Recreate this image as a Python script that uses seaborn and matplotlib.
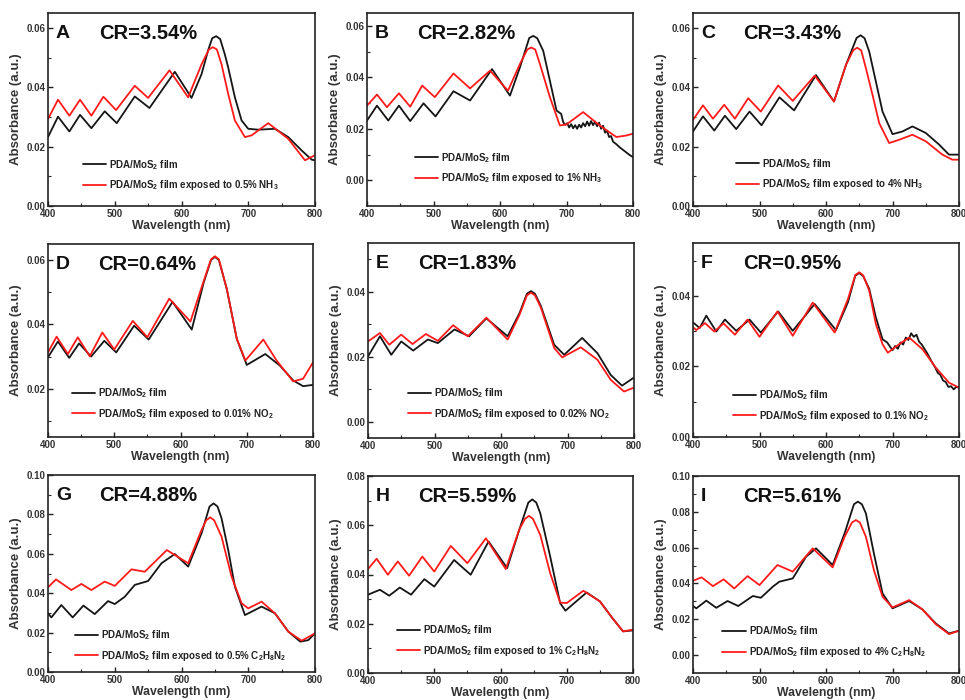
import numpy as np
import pandas as pd
import matplotlib
matplotlib.use("Agg")
import matplotlib.pyplot as plt
import seaborn as sns

# ---------------- data ----------------
A_bk_x = [400, 415, 432, 448, 465, 485, 503, 530, 552, 590, 615, 630, 640, 646, 652, 658, 665, 670, 680, 690, 700, 715, 740, 760, 780, 795, 800]
A_bk_y = [0.0232, 0.0301, 0.0251, 0.0307, 0.0262, 0.0319, 0.0279, 0.0369, 0.0330, 0.0452, 0.0364, 0.0444, 0.0525, 0.0565, 0.0572, 0.0562, 0.0510, 0.0466, 0.0366, 0.0288, 0.0260, 0.0257, 0.0260, 0.0232, 0.0187, 0.0156, 0.0154]
A_rd_x = [400, 415, 432, 448, 465, 483, 502, 530, 550, 582, 610, 630, 641, 647, 653, 660, 670, 680, 695, 705, 730, 760, 785, 800]
A_rd_y = [0.0293, 0.0358, 0.0304, 0.0358, 0.0304, 0.0368, 0.0323, 0.0405, 0.0364, 0.0457, 0.0366, 0.0477, 0.0527, 0.0535, 0.0527, 0.0477, 0.0377, 0.0288, 0.0232, 0.0238, 0.0279, 0.0226, 0.0154, 0.0171]

B_bk_x = [400, 415, 432, 448, 465, 485, 503, 530, 555, 588, 615, 630, 644, 650, 656, 665, 675, 685, 692,
          695, 698, 701, 704, 707, 710, 713, 716, 719, 722, 725, 728, 731, 734, 737, 740, 743, 746, 749,
          752, 755, 758, 761, 764, 767, 770, 775, 780, 785, 790, 795, 800]
B_bk_y = [0.0232, 0.0290, 0.0232, 0.0290, 0.0230, 0.0299, 0.0248, 0.0346, 0.0310, 0.0432, 0.0329, 0.0439, 0.0553, 0.0561, 0.0552, 0.0503, 0.0387, 0.0271, 0.0258,
          0.0226, 0.0215, 0.0222, 0.0205, 0.0218, 0.0202, 0.0214, 0.0200, 0.0216, 0.0205, 0.0222, 0.0210, 0.0228, 0.0212, 0.0230, 0.0214, 0.0228, 0.0210, 0.0224,
          0.0200, 0.0212, 0.0185, 0.0193, 0.0168, 0.0172, 0.0150, 0.0140, 0.0128, 0.0118, 0.0108, 0.0098, 0.0090]
B_rd_x = [400, 415, 430, 448, 465, 483, 502, 530, 555, 585, 612, 630, 641, 647, 653, 660, 675, 690, 700, 725, 750, 775, 790, 800]
B_rd_y = [0.0290, 0.0333, 0.0284, 0.0338, 0.0286, 0.0368, 0.0323, 0.0415, 0.0357, 0.0426, 0.0348, 0.0452, 0.0508, 0.0516, 0.0508, 0.0452, 0.0323, 0.0213, 0.0217, 0.0265, 0.0213, 0.0168, 0.0174, 0.0181]

C_bk_x = [400, 415, 432, 448, 465, 485, 503, 530, 552, 585, 612, 630, 646, 652, 658, 665, 675, 685, 700, 715, 730, 750, 770, 785, 800]
C_bk_y = [0.0251, 0.0302, 0.0254, 0.0304, 0.0259, 0.0318, 0.0272, 0.0366, 0.0322, 0.0441, 0.0352, 0.0475, 0.0566, 0.0575, 0.0565, 0.0520, 0.0419, 0.0318, 0.0242, 0.0251, 0.0268, 0.0246, 0.0207, 0.0173, 0.0173]
C_rd_x = [400, 415, 430, 447, 463, 483, 502, 528, 550, 583, 612, 630, 641, 647, 653, 660, 670, 680, 695, 710, 730, 750, 775, 790, 800]
C_rd_y = [0.0290, 0.0339, 0.0294, 0.0341, 0.0294, 0.0363, 0.0318, 0.0406, 0.0354, 0.0439, 0.0352, 0.0475, 0.0525, 0.0533, 0.0524, 0.0464, 0.0374, 0.0279, 0.0212, 0.0223, 0.0240, 0.0218, 0.0173, 0.0156, 0.0156]

D_bk_x = [400, 415, 432, 447, 465, 485, 503, 530, 552, 588, 617, 635, 646, 652, 658, 670, 685, 700, 728, 750, 770, 785, 800]
D_bk_y = [0.0298, 0.0347, 0.0296, 0.0341, 0.0300, 0.0349, 0.0313, 0.0396, 0.0353, 0.0470, 0.0384, 0.0530, 0.0600, 0.0610, 0.0600, 0.0509, 0.0355, 0.0274, 0.0308, 0.0272, 0.0226, 0.0208, 0.0212]
D_rd_x = [400, 413, 430, 445, 463, 482, 500, 528, 550, 583, 615, 635, 646, 652, 658, 670, 685, 698, 725, 745, 770, 785, 800]
D_rd_y = [0.0313, 0.0362, 0.0308, 0.0360, 0.0301, 0.0375, 0.0322, 0.0411, 0.0360, 0.0480, 0.0409, 0.0535, 0.0602, 0.0612, 0.0602, 0.0509, 0.0355, 0.0288, 0.0353, 0.0288, 0.0223, 0.0231, 0.0282]

E_bk_x = [400, 418, 435, 450, 468, 490, 505, 530, 552, 578, 610, 628, 639, 645, 651, 660, 680, 695, 722, 745, 765, 782, 800]
E_bk_y = [0.0201, 0.0263, 0.0206, 0.0247, 0.0219, 0.0253, 0.0242, 0.0284, 0.0263, 0.0318, 0.0263, 0.0335, 0.0394, 0.0402, 0.0394, 0.0356, 0.0237, 0.0206, 0.0258, 0.0211, 0.0144, 0.0111, 0.0136]
E_rd_x = [400, 418, 432, 450, 467, 487, 505, 528, 550, 578, 610, 628, 639, 645, 651, 660, 680, 692, 720, 745, 765, 785, 800]
E_rd_y = [0.0247, 0.0273, 0.0237, 0.0268, 0.0239, 0.0270, 0.0249, 0.0297, 0.0263, 0.0320, 0.0253, 0.0330, 0.0389, 0.0397, 0.0389, 0.0351, 0.0227, 0.0198, 0.0229, 0.0191, 0.0129, 0.0093, 0.0105]

F_bk_x = [400, 410, 420, 435, 448, 465, 485, 502, 528, 550, 583, 615, 633, 644, 650, 656, 665, 675, 685, 692,
          700, 704, 708, 712, 716, 720, 724, 728, 732, 736, 740, 744, 748, 752, 756, 760, 764, 768,
          772, 776, 780, 784, 788, 792, 796, 800]
F_bk_y = [0.0325, 0.0309, 0.0344, 0.0299, 0.0333, 0.0301, 0.0333, 0.0296, 0.0356, 0.0301, 0.0377, 0.0303, 0.0382, 0.0457, 0.0465, 0.0456, 0.0420, 0.0339, 0.0277, 0.0268,
          0.0246, 0.0258, 0.0250, 0.0268, 0.0262, 0.0282, 0.0275, 0.0294, 0.0284, 0.0290, 0.0270, 0.0262, 0.0250, 0.0238, 0.0224, 0.0210, 0.0198, 0.0182,
          0.0176, 0.0160, 0.0156, 0.0142, 0.0144, 0.0135, 0.0142, 0.0140]
F_rd_x = [400, 405, 418, 432, 446, 463, 482, 500, 527, 550, 580, 613, 633, 644, 650, 656, 665, 675, 685, 693, 710, 725, 745, 765, 785, 800]
F_rd_y = [0.0311, 0.0303, 0.0323, 0.0299, 0.0322, 0.0290, 0.0333, 0.0284, 0.0356, 0.0287, 0.0381, 0.0296, 0.0391, 0.0459, 0.0467, 0.0458, 0.0415, 0.0320, 0.0263, 0.0239, 0.0263, 0.0282, 0.0249, 0.0197, 0.0154, 0.0140]

G_bk_x = [400, 405, 420, 437, 453, 470, 490, 500, 515, 530, 550, 570, 590, 610, 630, 642, 648, 654, 660, 670, 680, 695, 720, 740, 760, 778, 790, 800]
G_bk_y = [0.0298, 0.0277, 0.0340, 0.0277, 0.0337, 0.0294, 0.0360, 0.0345, 0.0382, 0.0442, 0.0462, 0.0552, 0.0599, 0.0535, 0.0704, 0.0840, 0.0856, 0.0840, 0.0780, 0.0619, 0.0433, 0.0289, 0.0332, 0.0298, 0.0205, 0.0154, 0.0162, 0.0196]
G_rd_x = [400, 412, 435, 450, 465, 485, 500, 525, 545, 578, 610, 630, 637, 643, 649, 660, 675, 690, 700, 720, 740, 760, 780, 800]
G_rd_y = [0.0430, 0.0470, 0.0416, 0.0447, 0.0416, 0.0459, 0.0437, 0.0521, 0.0509, 0.0619, 0.0552, 0.0721, 0.0770, 0.0785, 0.0770, 0.0687, 0.0484, 0.0349, 0.0323, 0.0357, 0.0298, 0.0205, 0.0159, 0.0196]

H_bk_x = [400, 418, 432, 448, 465, 485, 500, 530, 555, 582, 610, 630, 642, 648, 654, 660, 675, 690, 698, 730, 750, 770, 785, 800]
H_bk_y = [0.0318, 0.0338, 0.0314, 0.0347, 0.0318, 0.0381, 0.0351, 0.0459, 0.0399, 0.0534, 0.0426, 0.0595, 0.0692, 0.0705, 0.0692, 0.0649, 0.0473, 0.0284, 0.0253, 0.0327, 0.0291, 0.0219, 0.0169, 0.0173]
H_rd_x = [400, 413, 430, 445, 462, 482, 500, 525, 550, 578, 608, 628, 637, 643, 649, 660, 675, 690, 700, 725, 750, 770, 785, 800]
H_rd_y = [0.0422, 0.0464, 0.0399, 0.0453, 0.0395, 0.0473, 0.0412, 0.0516, 0.0446, 0.0547, 0.0422, 0.0581, 0.0626, 0.0638, 0.0626, 0.0561, 0.0405, 0.0286, 0.0284, 0.0334, 0.0291, 0.0219, 0.0169, 0.0176]

I_bk_x = [400, 405, 420, 435, 452, 468, 490, 502, 520, 530, 550, 570, 585, 610, 628, 642, 648, 654, 660, 672, 685, 700, 725, 745, 765, 785, 800]
I_bk_y = [0.0274, 0.0261, 0.0304, 0.0264, 0.0302, 0.0274, 0.0330, 0.0320, 0.0382, 0.0410, 0.0428, 0.0549, 0.0596, 0.0503, 0.0680, 0.0842, 0.0857, 0.0842, 0.0791, 0.0568, 0.0345, 0.0261, 0.0302, 0.0255, 0.0177, 0.0121, 0.0136]
I_rd_x = [400, 413, 430, 446, 462, 482, 500, 527, 550, 580, 610, 628, 639, 645, 651, 660, 672, 685, 700, 725, 745, 765, 785, 800]
I_rd_y = [0.0415, 0.0434, 0.0385, 0.0423, 0.0372, 0.0441, 0.0391, 0.0503, 0.0466, 0.0596, 0.0490, 0.0661, 0.0740, 0.0754, 0.0740, 0.0661, 0.0475, 0.0326, 0.0266, 0.0307, 0.0255, 0.0173, 0.0117, 0.0136]

letters = ["A", "B", "C", "D", "E", "F", "G", "H", "I"]
cr_texts = ["CR=3.54%", "CR=2.82%", "CR=3.43%", "CR=0.64%", "CR=1.83%", "CR=0.95%", "CR=4.88%", "CR=5.59%", "CR=5.61%"]
gas_labels = ["0.5% NH$_3$", "1% NH$_3$", "4% NH$_3$", "0.01% NO$_2$", "0.02% NO$_2$", "0.1% NO$_2$",
              "0.5% C$_2$H$_8$N$_2$", "1% C$_2$H$_8$N$_2$", "4% C$_2$H$_8$N$_2$"]
black_label = "PDA/MoS$_2$ film"
red_prefix = "PDA/MoS$_2$ film exposed to "

series = [
    (A_bk_x, A_bk_y, A_rd_x, A_rd_y), (B_bk_x, B_bk_y, B_rd_x, B_rd_y), (C_bk_x, C_bk_y, C_rd_x, C_rd_y),
    (D_bk_x, D_bk_y, D_rd_x, D_rd_y), (E_bk_x, E_bk_y, E_rd_x, E_rd_y), (F_bk_x, F_bk_y, F_rd_x, F_rd_y),
    (G_bk_x, G_bk_y, G_rd_x, G_rd_y), (H_bk_x, H_bk_y, H_rd_x, H_rd_y), (I_bk_x, I_bk_y, I_rd_x, I_rd_y),
]

# ---------------- layout / style ----------------
ylims = [(0, 0.065), (-0.01, 0.065), (0, 0.065),
         (0.005, 0.065), (-0.005, 0.055), (0, 0.055),
         (0, 0.10), (0, 0.08), (-0.01, 0.10)]
yticks = [[0, 0.02, 0.04, 0.06], [0, 0.02, 0.04, 0.06], [0, 0.02, 0.04, 0.06],
          [0.02, 0.04, 0.06], [0, 0.02, 0.04], [0, 0.02, 0.04],
          [0, 0.02, 0.04, 0.06, 0.08, 0.10], [0, 0.02, 0.04, 0.06, 0.08], [0, 0.02, 0.04, 0.06, 0.08, 0.10]]
# axes boxes in pixels (left, right, top, bottom)
boxes = [(48, 315, 13, 206), (367, 633, 13, 206), (693, 959, 13, 206),
         (48, 313, 244, 437), (368, 634, 243, 438), (693, 959, 243, 437),
         (48, 315, 475, 672), (368, 633, 476, 673), (693, 959, 476, 673)]
# legend anchor (axes fraction): x of line start, y of first row
leg_pos = [(0.12, 0.22), (0.17, 0.256), (0.15, 0.225),
           (0.08, 0.234), (0.14, 0.237), (0.14, 0.222),
           (0.09, 0.193), (0.10, 0.223), (0.10, 0.217)]

sns.set_theme(style="ticks")
plt.rcParams.update({
    "font.family": ["Liberation Sans", "DejaVu Sans"],
    "font.weight": "bold",
    "axes.labelweight": "bold",
    "mathtext.fontset": "custom",
    "mathtext.rm": "Liberation Sans:bold",
    "mathtext.bf": "Liberation Sans:bold",
    "mathtext.it": "Liberation Sans:bold",
    "mathtext.default": "bf",
    "axes.linewidth": 1.2,
    "axes.edgecolor": "#222222",
})

W, H = 965, 700
fig = plt.figure(figsize=(W / 100, H / 100), dpi=100)

for i in range(9):
    l, r, t, b = boxes[i]
    ax = fig.add_axes([l / W, 1 - b / H, (r - l) / W, (b - t) / H])
    bx, by, rx, ry = series[i]
    df = pd.concat([
        pd.DataFrame({"Wavelength": bx, "Absorbance": by, "sample": "film"}),
        pd.DataFrame({"Wavelength": rx, "Absorbance": ry, "sample": "exposed"}),
    ], ignore_index=True)
    sns.lineplot(data=df, x="Wavelength", y="Absorbance", hue="sample",
                 palette={"film": "#151515", "exposed": "#ff1a1a"},
                 estimator=None, sort=True, linewidth=1.3, legend=False, ax=ax)
    for ln in ax.get_lines():
        ln.set_solid_joinstyle("round")
    ax.set_xlim(400, 800)
    ax.set_ylim(*ylims[i])
    ax.set_xticks([400, 500, 600, 700, 800])
    ax.set_xticks([450, 550, 650, 750], minor=True)
    ax.set_yticks(yticks[i])
    ax.set_yticklabels([f"{v:.2f}" for v in yticks[i]])
    yt = yticks[i]
    ax.set_yticks([v + 0.01 for v in yt[:-1]] + ([yt[-1] + 0.01] if yt[-1] + 0.01 < ylims[i][1] else [])
                  + ([yt[0] - 0.01] if yt[0] - 0.01 > ylims[i][0] else []), minor=True)
    ax.tick_params(axis="both", which="major", direction="in", length=3.5, width=1.0,
                   labelsize=7, pad=2, colors="#222222")
    ax.tick_params(axis="both", which="minor", direction="in", length=2, width=0.8)
    for lab in ax.get_xticklabels() + ax.get_yticklabels():
        lab.set_fontweight("bold")
        lab.set_color("#333333")
    ax.set_xlabel("Wavelength (nm)", fontsize=8.8, fontweight="bold", labelpad=1, color="#333333")
    ax.set_ylabel("Absorbance (a.u.)", fontsize=9.5, fontweight="bold", labelpad=3, color="#333333")

    ax.text(0.03, 0.895, letters[i], transform=ax.transAxes, fontsize=14, fontweight="bold",
            va="center", ha="left", color="#111111")
    ax.text(0.19, 0.895, cr_texts[i], transform=ax.transAxes, fontsize=14.5, fontweight="bold",
            va="center", ha="left", color="#111111")

    lx, ly = leg_pos[i]
    lines = ax.get_lines()[:2]
    leg = ax.legend(lines, [black_label, red_prefix + gas_labels[i]],
                    loc="upper left", bbox_to_anchor=(lx + 0.01, ly + 0.03),
                    frameon=False, fontsize=7, handlelength=2.4, handletextpad=0.3,
                    labelspacing=0.7, borderaxespad=0, borderpad=0)
    for txt in leg.get_texts():
        txt.set_fontweight("bold")
        txt.set_color("#222222")

fig.savefig("out.png", dpi=100)
